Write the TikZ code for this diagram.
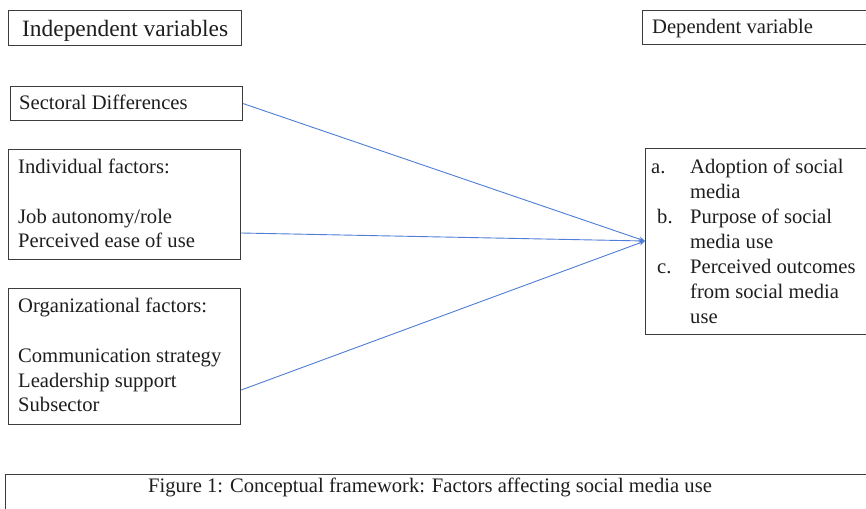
\documentclass[tikz,border=0pt]{standalone}
\usepackage{fontspec}
\setmainfont{Liberation Serif}
\usetikzlibrary{arrows.meta,calc}
\definecolor{boxline}{RGB}{60,60,60}
\definecolor{txt}{RGB}{30,30,30}
\definecolor{arr}{RGB}{80,125,215}
\tikzset{
  box/.style={draw=boxline,line width=1.2pt,rectangle,inner sep=0pt,anchor=north west},
  lbl/.style={anchor=base west,inner sep=0pt,text=txt,font=\fontsize{20.6}{24}\selectfont},
  conn/.style={draw=arr,line width=0.9pt,-{Stealth[length=6pt,width=5pt]}}
}
\begin{document}
\begin{tikzpicture}[x=1pt,y=-1pt]
\useasboundingbox (0,0) rectangle (866,508);
\fill[white] (0,0) rectangle (866,508);
% boxes
\node[box,minimum width=233pt,minimum height=35pt] (ivbox) at (8,10) {};
\node[box,minimum width=232pt,minimum height=34pt] (sec) at (10,86) {};
\node[box,minimum width=232pt,minimum height=110pt] (ind) at (8,149) {};
\node[box,minimum width=232pt,minimum height=136pt] (org) at (8,288) {};
\node[box,minimum width=226pt,minimum height=34pt] (dvbox) at (642,10) {};
\node[box,minimum width=223pt,minimum height=186pt] (dep) at (645,148) {};
\node[box,minimum width=866pt,minimum height=40pt] (cap) at (5,474) {};
% texts
\node[lbl,font=\fontsize{23.4}{27}\selectfont] (ivt) at (22,37) {Independent variables};
\node[lbl] (sect) at (19,110) {Sectoral Differences};
\node[lbl] (ind1) at (18,173) {Individual factors:};
\node[lbl] (ind2) at (18,223) {Job autonomy/role};
\node[lbl] (ind3) at (18,247) {Perceived ease of use};
\node[lbl] (org1) at (18,312) {Organizational factors:};
\node[lbl] (org2) at (18,362) {Communication strategy};
\node[lbl] (org3) at (18,387) {Leadership support};
\node[lbl] (org4) at (18,411) {Subsector};
\node[lbl] (dvt) at (652,34) {Dependent variable};
\node[lbl] (da) at (651,173) {a.};
\node[lbl] (da1) at (690,173) {Adoption of social};
\node[lbl] (da2) at (690,198) {media};
\node[lbl] (db) at (657,223) {b.};
\node[lbl] (db1) at (690,223) {Purpose of social};
\node[lbl] (db2) at (690,248) {media use};
\node[lbl] (dc) at (657,273) {c.};
\node[lbl] (dc1) at (690,273) {Perceived outcomes};
\node[lbl] (dc2) at (690,298) {from social media};
\node[lbl] (dc3) at (690,323) {use};
\node[lbl] (capt) at (148,492) {Figure 1: Conceptual framework: Factors affecting social media use};
% connector endpoints
\coordinate (target) at (dep.west |- 0,241);
\coordinate (s1) at (sec.east);
\coordinate (s2) at (ind.east |- 0,233);
\coordinate (s3) at (org.east |- 0,390);
\draw[conn] (s1) -- (target);
\draw[conn] (s2) -- (target);
\draw[conn] (s3) -- (target);
\end{tikzpicture}
\end{document}
